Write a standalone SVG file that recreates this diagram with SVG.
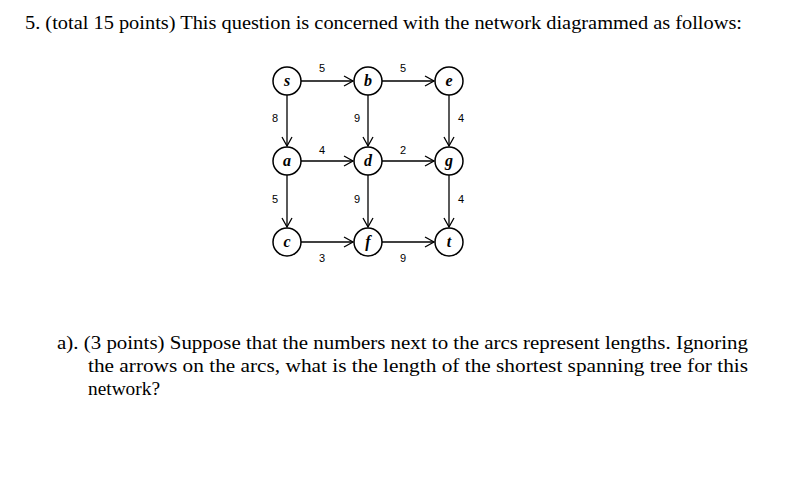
<svg xmlns="http://www.w3.org/2000/svg" width="810" height="487" viewBox="0 0 810 487">
<style>
.t{font-family:"Liberation Serif",serif;font-size:18px;fill:#000}
.n circle{fill:#fff;stroke:#000;stroke-width:1.5}
.n text{font-family:"Liberation Serif",serif;font-style:italic;font-weight:bold;font-size:16px;text-anchor:middle}
.c line{stroke:#000;stroke-width:1.3;marker-end:url(#ah)}
.l{font-family:"Liberation Sans",sans-serif;font-size:11px;text-anchor:middle}
</style>
<defs><marker id="ah" markerWidth="12" markerHeight="12" refX="10" refY="6" orient="auto" markerUnits="userSpaceOnUse"><path d="M1,1 L10,6 L1,11" fill="none" stroke="#000" stroke-width="1.3"/></marker></defs>
<rect width="810" height="487" fill="#fff"/>
<text class="t" x="25" y="29" textLength="717" lengthAdjust="spacingAndGlyphs">5. (total 15 points) This question is concerned with the network diagrammed as follows:</text>
<g class="c">
<line x1="301" y1="81" x2="353" y2="81"/><line x1="382" y1="81" x2="434" y2="81"/>
<line x1="301" y1="161" x2="353" y2="161"/><line x1="382" y1="161" x2="434" y2="161"/>
<line x1="301" y1="242" x2="353" y2="242"/><line x1="382" y1="242" x2="434" y2="242"/>
<line x1="287" y1="95" x2="287" y2="146"/><line x1="368" y1="95" x2="368" y2="146"/><line x1="449" y1="95" x2="449" y2="146"/>
<line x1="287" y1="175" x2="287" y2="227"/><line x1="368" y1="175" x2="368" y2="227"/><line x1="449" y1="175" x2="449" y2="227"/>
</g>
<g class="l">
<text x="322" y="72">5</text><text x="403" y="72">5</text>
<text x="275" y="122">8</text><text x="357" y="122">9</text><text x="461" y="122">4</text>
<text x="322" y="154">4</text><text x="403" y="154">2</text>
<text x="275" y="203">5</text><text x="357" y="203">9</text><text x="461" y="203">4</text>
<text x="322" y="262">3</text><text x="403" y="262">9</text>
</g>
<g id="s" class="n"><circle cx="287" cy="81" r="14"/><text x="287" y="86">s</text></g>
<g id="b" class="n"><circle cx="368" cy="81" r="14"/><text x="368" y="86">b</text></g>
<g id="e" class="n"><circle cx="449" cy="81" r="14"/><text x="449" y="86">e</text></g>
<g id="a" class="n"><circle cx="287" cy="161" r="14"/><text x="287" y="166">a</text></g>
<g id="d" class="n"><circle cx="368" cy="161" r="14"/><text x="368" y="166">d</text></g>
<g id="g" class="n"><circle cx="449" cy="161" r="14"/><text x="449" y="166">g</text></g>
<g id="c" class="n"><circle cx="287" cy="242" r="14"/><text x="287" y="247">c</text></g>
<g id="f" class="n"><circle cx="368" cy="242" r="14"/><text x="368" y="247">f</text></g>
<g id="t" class="n"><circle cx="449" cy="242" r="14"/><text x="449" y="247">t</text></g>
<text class="t" x="57" y="349" textLength="691" lengthAdjust="spacingAndGlyphs">a). (3 points) Suppose that the numbers next to the arcs represent lengths. Ignoring</text>
<text class="t" x="88" y="372" textLength="660" lengthAdjust="spacingAndGlyphs">the arrows on the arcs, what is the length of the shortest spanning tree for this</text>
<text class="t" x="88" y="395" textLength="72" lengthAdjust="spacingAndGlyphs">network?</text>
</svg>
